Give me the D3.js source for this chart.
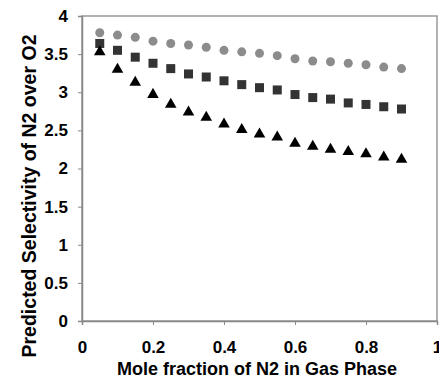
<!DOCTYPE html>
<html>
<head>
<meta charset="utf-8">
<script src="https://cdn.jsdelivr.net/npm/d3@7"></script>
<style>
  body { margin: 0; background: #fff; }
  svg { display: block; }
  text { font-family: "Liberation Sans", Arial, sans-serif; font-weight: bold; fill: #000; }
</style>
</head>
<body>
<div id="chart"></div>
<script>
// Mole fraction of N2 in gas phase
const xValues = [0.05, 0.1, 0.15, 0.2, 0.25, 0.3, 0.35, 0.4, 0.45, 0.5,
                 0.55, 0.6, 0.65, 0.7, 0.75, 0.8, 0.85, 0.9];

// Predicted selectivity series
const circleSeries = [3.78, 3.75, 3.72, 3.67, 3.64, 3.62, 3.59, 3.55, 3.53, 3.51,
                      3.48, 3.44, 3.41, 3.40, 3.38, 3.36, 3.33, 3.31];
const squareSeries = [3.64, 3.55, 3.46, 3.38, 3.31, 3.24, 3.20, 3.15, 3.10, 3.06,
                      3.03, 2.97, 2.93, 2.91, 2.86, 2.84, 2.81, 2.78];
const triangleSeries = [3.53, 3.30, 3.13, 2.97, 2.84, 2.74, 2.67, 2.58, 2.51, 2.45,
                        2.41, 2.33, 2.29, 2.25, 2.22, 2.19, 2.15, 2.12];

const xTicks = [0, 0.2, 0.4, 0.6, 0.8, 1];
const yTicks = [0, 0.5, 1, 1.5, 2, 2.5, 3, 3.5, 4];

const W = 439, H = 381;
const margin = { top: 16, right: 2, bottom: 60, left: 82 };
const width = W - margin.left - margin.right;
const height = H - margin.top - margin.bottom;

const svg = d3.select('#chart')
    .append('svg')
    .attr('width', W)
    .attr('height', H);

const g = svg.append('g')
    .attr('transform', `translate(${margin.left},${margin.top})`);

const x = d3.scaleLinear().domain([0, 1]).range([0, width]);
const y = d3.scaleLinear().domain([0, 4]).range([height, 0]);

// plot frame (top and right in light gray)
g.append('rect')
    .attr('x', 0).attr('y', 0)
    .attr('width', width).attr('height', height)
    .attr('fill', 'none')
    .attr('stroke', '#999')
    .attr('stroke-width', 1.5);

// axes
const xAxis = g.append('g')
    .attr('transform', `translate(0,${height})`)
    .call(d3.axisBottom(x).tickValues(xTicks).tickSize(4).tickPadding(16)
        .tickFormat(d => String(+d.toFixed(1))));

const yAxis = g.append('g')
    .call(d3.axisLeft(y).tickValues(yTicks).tickSize(4).tickPadding(10)
        .tickFormat(d => String(d)));

[xAxis, yAxis].forEach(a => {
    a.select('.domain').attr('stroke', '#888').attr('stroke-width', 1.5);
    a.selectAll('.tick line').attr('stroke', '#888');
    a.selectAll('text')
        .style('font-size', '17px')
        .style('font-weight', 'bold')
        .attr('fill', '#000');
});

// axis titles
svg.append('text')
    .attr('x', 257)
    .attr('y', 375)
    .attr('text-anchor', 'middle')
    .style('font-size', '18px')
    .text('Mole fraction of N2 in Gas Phase');

svg.append('text')
    .attr('transform', `translate(36,196) rotate(-90)`)
    .attr('text-anchor', 'middle')
    .style('font-size', '19.5px')
    .text('Predicted Selectivity of N2 over O2');

// circles
g.append('g').selectAll('circle')
    .data(xValues)
    .join('circle')
    .attr('cx', (d, i) => x(d))
    .attr('cy', (d, i) => y(circleSeries[i]))
    .attr('r', 4.5)
    .attr('fill', '#8c8c8c');

// squares
const sq = 9;
g.append('g').selectAll('rect')
    .data(xValues)
    .join('rect')
    .attr('x', d => x(d) - sq / 2)
    .attr('y', (d, i) => y(squareSeries[i]) - sq / 2)
    .attr('width', sq)
    .attr('height', sq)
    .attr('fill', '#333');

// triangles
const tri = d3.symbol().type(d3.symbolTriangle).size(58);
g.append('g').selectAll('path')
    .data(xValues)
    .join('path')
    .attr('d', tri)
    .attr('transform', (d, i) => `translate(${x(d)},${y(triangleSeries[i])})`)
    .attr('fill', '#000');
</script>
</body>
</html>
